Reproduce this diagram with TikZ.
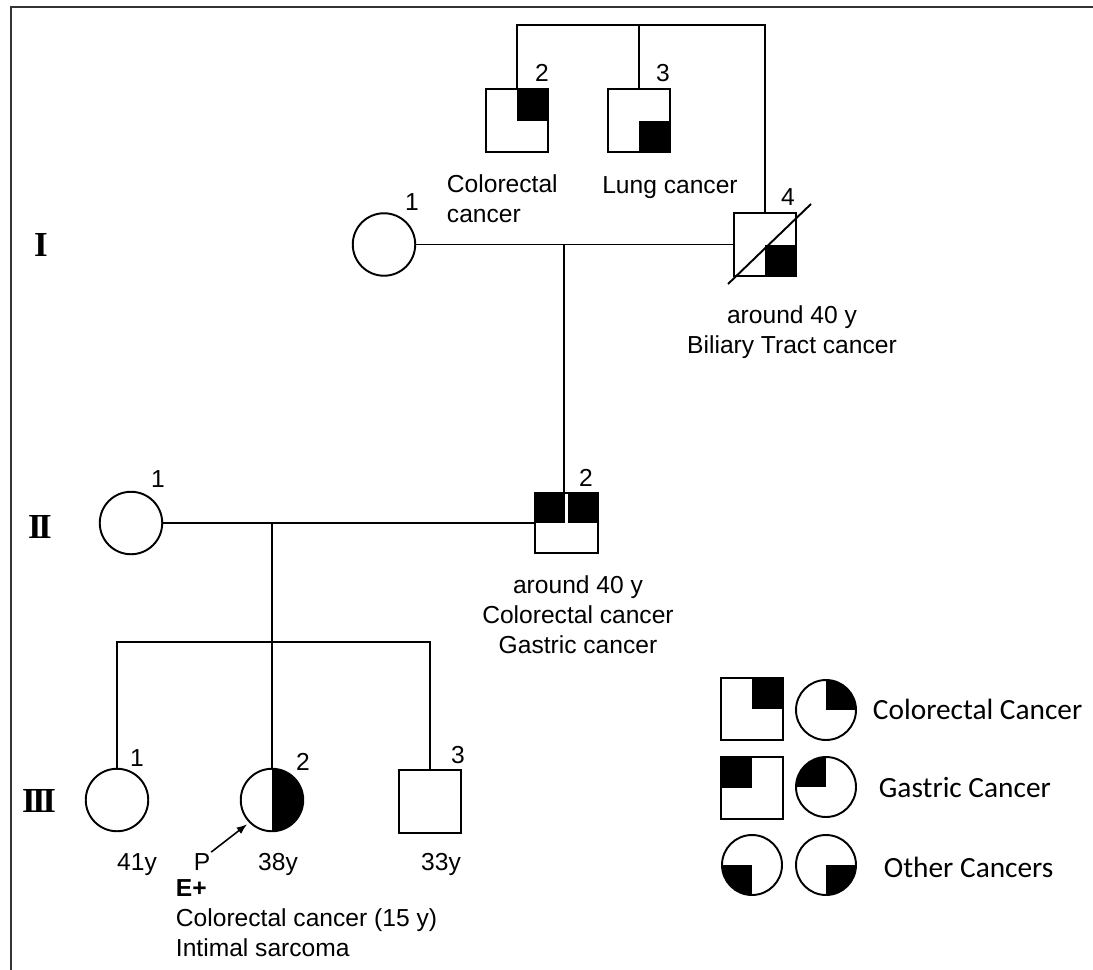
\documentclass[tikz,border=0pt]{standalone}
\usepackage{fontspec}
\setmainfont{Liberation Sans}
\newfontfamily\keyfont{Carlito}
\newfontfamily\genfont{Liberation Serif}
\usetikzlibrary{arrows.meta, calc}

\begin{document}
\begin{tikzpicture}[
			x=0.02cm, y=-0.02cm,
			line width=1.1pt,
			male/.style={rectangle, draw, minimum size=1.25cm, inner sep=0pt, outer sep=0pt},
			female/.style={circle, draw, minimum size=1.25cm, inner sep=0pt, outer sep=0pt},
			qtr/.style={path picture={\fill (path picture bounding box.center) rectangle (path picture bounding box.north east);}},
			qtl/.style={path picture={\fill (path picture bounding box.center) rectangle (path picture bounding box.north west);}},
			qbl/.style={path picture={\fill (path picture bounding box.center) rectangle (path picture bounding box.south west);}},
			qbr/.style={path picture={\fill (path picture bounding box.center) rectangle (path picture bounding box.south east);}},
			halfright/.style={path picture={\fill (path picture bounding box.north) rectangle (path picture bounding box.south east);}},
			tophalves/.style={path picture={
					\fill (path picture bounding box.west) rectangle ([xshift=-0.7pt]path picture bounding box.north);
					\fill ([xshift=0.7pt]path picture bounding box.north) rectangle (path picture bounding box.east);}},
			idnum/.style={font=\fontsize{14}{16}\selectfont, inner sep=0pt},
			note/.style={font=\fontsize{14}{17}\selectfont, inner sep=0pt, align=center},
			gen/.style={font=\genfont\bfseries\fontsize{20}{20}\selectfont, inner sep=0pt},
			keytext/.style={font=\keyfont\fontsize{16.7}{17}\selectfont, anchor=west, inner sep=0pt}
			]
			
			\useasboundingbox (0,0) rectangle (1093,970);
			\draw[line width=1.2pt, black!80] (1093,7) -- (11,7) -- (11,970);
			
			% --- Generation labels ---
			\node[gen] (gI) at (41,245) {I};
			\node[gen] (gII) at (40,527) {I\kern-.1em I};
			\node[gen] (gIII) at (39,801) {I\kern-.1em I\kern-.1em I};
			
			% --- Generation I ---
			\node[female] (I1) at (384,244.5) {};
			\node[male, qtr] (I2) at (517,120.5) {};
			\node[male, qbr] (I3) at (639,120.5) {};
			\node[male, qbr] (I4) at (765,244.5) {};
			\coordinate (topI) at (639,25);
			\coordinate (mI) at (564,244.5);
			
			\draw (I2.north) |- (topI) -| (I4.north);
			\draw (topI) -- (I3.north);
			\draw (I1) -- (I4);
			% deceased
			\draw ([shift={(-37,39.5)}]I4.center) -- ([shift={(46,-40.5)}]I4.center);
			
			\node[idnum] (nI1) at (412,202) {1};
			\node[idnum] (nI2) at (542,73) {2};
			\node[idnum] (nI3) at (663,73) {3};
			\node[idnum] (nI4) at (788,197) {4};
			
			\node[note, align=left, anchor=west] (tI2) at (446,199) {Colorectal\\cancer};
			\node[note, anchor=base] (tI3) at (670,193) {Lung cancer};
			\node[note] (tI4) at (792,332) {around 40 y\\Biliary Tract cancer};
			
			% --- Generation II ---
			\node[female] (II1) at (131,523) {};
			\node[male, minimum width=1.26cm, minimum height=1.2cm, tophalves] (II2) at (566.5,523) {};
			\coordinate (mII) at (272,523);
			
			\draw (mI) -- (mI |- II2.north);
			\draw (II1) -- (II2);
			
			\node[idnum] (nII1) at (158,479) {1};
			\node[idnum] (nII2) at (586,478) {2};
			\node[note] (tII2) at (578,615) {around 40 y\\Colorectal cancer\\Gastric cancer};
			
			% --- Generation III ---
			\coordinate (sIII) at (272,642);
			\node[female] (III1) at (117,800) {};
			\node[female, halfright] (III2) at (272,800) {};
			\node[male] (III3) at (430,801.5) {};
			
			\draw (mII) -- (III2);
			\draw (III1) |- (sIII) -| (III3);
			
			\node[idnum] (nIII1) at (137,758) {1};
			\node[idnum] (nIII2) at (303,762) {2};
			\node[idnum] (nIII3) at (458,755) {3};
			
			\node[note, anchor=base] (aIII1) at (137,870) {41y};
			\node[note, anchor=base] (aIII2) at (278,870) {38y};
			\node[note, anchor=base] (aIII3) at (441,870) {33y};
			
			% proband
			\node[note, anchor=base] (pb) at (202,870) {P};
			\draw[-{Latex[length=6pt,width=4.5pt]}, line width=0.9pt, shorten >=2pt] (pb.north east) -- (III2.225);
			\node[note, align=left, anchor=west] (tIII2) at (175,918) {\textbf{E+}\\Colorectal cancer (15 y)\\Intimal sarcoma};
			
			% --- Legend ---
			\node[male, minimum size=1.24cm, qtr] (k1s) at (752,709) {};
			\node[female, minimum size=1.2cm, qtr] (k1c) at (826,710) {};
			\node[keytext] (k1t) at (872,709) {Colorectal Cancer};
			
			\node[male, minimum size=1.24cm, qtl] (k2s) at (752,788) {};
			\node[female, minimum size=1.2cm, qtl] (k2c) at (826,787) {};
			\node[keytext] (k2t) at (878,788) {Gastric Cancer};
			
			\node[female, minimum size=1.2cm, qbl] (k3a) at (752,865) {};
			\node[female, minimum size=1.2cm, qbr] (k3b) at (826,865) {};
			\node[keytext] (k3t) at (883,867) {Other Cancers};
			
		\end{tikzpicture}
\end{document}
